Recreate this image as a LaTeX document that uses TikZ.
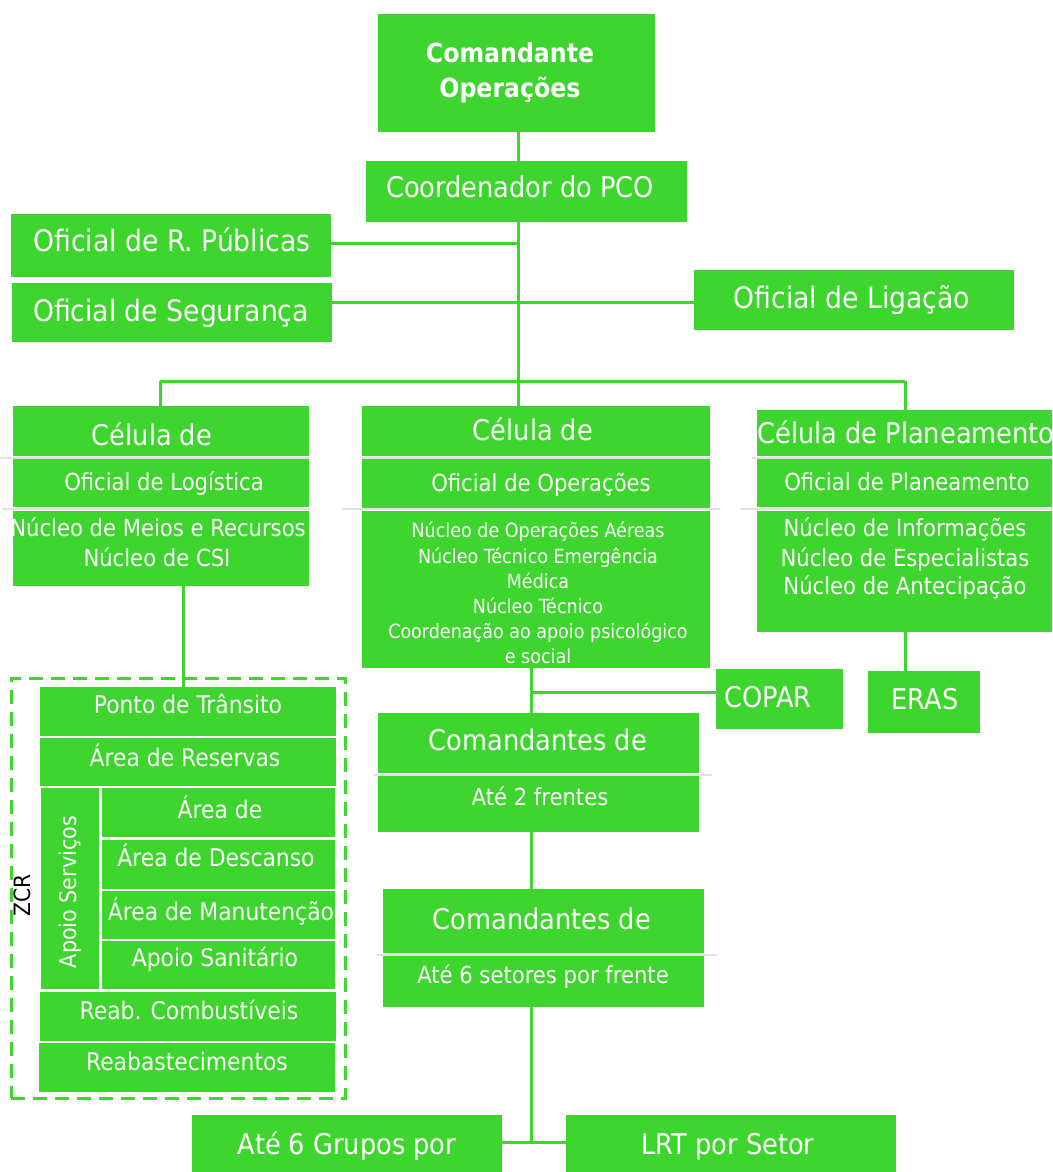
\documentclass[tikz,border=0pt]{standalone}
\usepackage{fontspec}
\setmainfont{DejaVu Sans Condensed}
\usetikzlibrary{fit}
\definecolor{gr}{RGB}{62,214,46}
\definecolor{gl}{RGB}{226,226,226}
\begin{document}
\begin{tikzpicture}[x=1pt,y=-1pt,
 box/.style={fill=gr, draw=none, inner sep=0pt, outer sep=0pt},
 tx/.style={text=white, inner sep=0pt, outer sep=0pt, anchor=base},
 big/.style={tx, font=\fontsize{28.5}{34}\selectfont},
 bigr/.style={tx, font=\fontsize{29.6}{34}\selectfont},
 mid/.style={tx, font=\fontsize{23.5}{28}\selectfont},
 sml/.style={tx, font=\fontsize{19.5}{24}\selectfont},
 zin/.style={tx, font=\fontsize{24.3}{28}\selectfont},
 bld/.style={tx, font=\fontsize{26.3}{30}\selectfont\bfseries},
 conn/.style={draw=gr, line width=3pt},
 sepl/.style={draw=gl, line width=2pt}]
\useasboundingbox (0,0) rectangle (1052,1172);

% ---------- coordinates for connectors
\coordinate (vT) at (518,0);
\coordinate (bL) at (160,381);
\coordinate (bC) at (518,381);
\coordinate (bR) at (905,381);
\coordinate (j1) at (518,243);
\coordinate (j2) at (518,302);
\coordinate (vC) at (531,692);
\coordinate (vB) at (531,1142);
\coordinate (vL) at (183,0);

% ---------- boxes
\node[box, fit={(378,14)(655,132)}] (cmd) {};
\node[box, fit={(366,161)(687,222)}] (coord) {};
\node[box, fit={(11,214)(331,277)}] (orp) {};
\node[box, fit={(12,283)(332,342)}] (oseg) {};
\node[box, fit={(694,270)(1014,330)}] (olig) {};

\node[box, fit={(13,406)(309,456)}] (lh) {};
\node[box, fit={(13,459)(309,507)}] (lm) {};
\node[box, fit={(13,511)(309,586)}] (lb) {};

\node[box, fit={(362,406)(710,456)}] (ch) {};
\node[box, fit={(362,459)(710,508)}] (cm) {};
\node[box, fit={(362,511)(710,668)}] (cb) {};

\node[box, fit={(757,410)(1052,456)}] (rh) {};
\node[box, fit={(757,459)(1052,507)}] (rm) {};
\node[box, fit={(757,511)(1052,632)}] (rb) {};

\node[box, fit={(716,669)(843,729)}] (copar) {};
\node[box, fit={(868,671)(980,733)}] (eras) {};

\node[box, fit={(378,713)(699,773)}] (fr1) {};
\node[box, fit={(378,776)(699,832)}] (fr2) {};
\node[box, fit={(383,889)(704,953)}] (st1) {};
\node[box, fit={(383,956)(704,1007)}] (st2) {};

\node[box, fit={(192,1115)(502,1172)}] (grp) {};
\node[box, fit={(566,1115)(896,1172)}] (lrt) {};

% ZCR inner boxes
\node[box, fit={(40,687)(336,736)}] (pt) {};
\node[box, fit={(40,738)(336,786)}] (ar) {};
\node[box, fit={(41,788)(99,989)}] (aps) {};
\node[box, fit={(102,788)(335,837)}] (aal) {};
\node[box, fit={(102,840)(335,889)}] (ade) {};
\node[box, fit={(102,891)(335,939)}] (ama) {};
\node[box, fit={(102,941)(335,989)}] (asa) {};
\node[box, fit={(40,992)(336,1041)}] (rco) {};
\node[box, fit={(39,1043)(335,1092)}] (rea) {};

% ---------- light separator lines
\draw[sepl] (0,457.5) -- (310,457.5);
\draw[sepl] (2,509) -- (310,509);
\draw[sepl] (362,457.5) -- (710,457.5);
\draw[sepl] (342,509) -- (720,509);
\draw[sepl] (752,457.5) -- (1052,457.5);
\draw[sepl] (740,509) -- (1052,509);
\draw[sepl] (373,774.5) -- (712,774.5);
\draw[sepl] (377,954.5) -- (717,954.5);

% ---------- connectors
\draw[conn] (cmd.south -| vT) -- (coord.north -| vT);
\draw[conn] (coord.south -| vT) -- (bC);
\draw[conn] (orp.east |- j1) -- (j1);
\draw[conn] (oseg.east |- j2) -- (olig.west |- j2);
\draw[conn] (bL) -- (bR);
\draw[conn] (bL) -- (lh.north -| bL);
\draw[conn] (bC) -- (ch.north -| bC);
\draw[conn] (bR) -- (rh.north -| bR);
\draw[conn] (cb.south -| vC) -- (fr1.north -| vC);
\draw[conn] (vC) -- (copar.west |- vC);
\draw[conn] (rb.south -| bR) -- (eras.north -| bR);
\draw[conn] (fr2.south -| vC) -- (st1.north -| vC);
\draw[conn] (st2.south -| vB) -- (vB);
\draw[conn] (grp.east |- vB) -- (lrt.west |- vB);
\draw[conn] (lb.south -| vL) -- (pt.north -| vL);

% ZCR dashed frame
\node[draw=gr, line width=3pt, dash pattern=on 14pt off 8pt, inner sep=0pt, fit={(11,678)(345,1098)}] (zcr) {};
\node[rotate=90, inner sep=0pt, font=\fontsize{22.5}{26}\selectfont] (zcrl) at (22,895) {ZCR};

% ---------- texts
\node[bld] (t1) at (510,63) {Comandante};
\node[bld] (t2) at (510,97) {Operações};
\node[big] (t3) at (520,197) {Coordenador do PCO};
\node[bigr] (t4) at (172,251) {Oficial de R. Públicas};
\node[bigr] (t5) at (171,321) {Oficial de Segurança};
\node[bigr] (t6) at (852,308) {Oficial de Ligação};

\node[big] (t7) at (152,445) {Célula de};
\node[mid] (t8) at (164,490) {Oficial de Logística};
\node[mid] (t9) at (158,536) {Núcleo de Meios e Recursos};
\node[mid] (t10) at (157,566) {Núcleo de CSI};

\node[big] (t11) at (533,440) {Célula de};
\node[mid] (t12) at (541,491) {Oficial de Operações};
\node[sml] (t13) at (538,537) {Núcleo de Operações Aéreas};
\node[sml] (t14) at (538,563) {Núcleo Técnico Emergência};
\node[sml] (t15) at (538,588) {Médica};
\node[sml] (t16) at (538,613) {Núcleo Técnico};
\node[sml] (t17) at (538,638) {Coordenação ao apoio psicológico};
\node[sml] (t18) at (538,663) {e social};

\node[big] (t19) at (906,443) {Célula de Planeamento};
\node[mid] (t20) at (907,490) {Oficial de Planeamento};
\node[mid] (t21) at (905,536) {Núcleo de Informações};
\node[mid] (t22) at (905,566) {Núcleo de Especialistas};
\node[mid] (t23) at (905,594) {Núcleo de Antecipação};

\node[big] (t24) at (768,707) {COPAR};
\node[big] (t25) at (925,709) {ERAS};

\node[big] (t26) at (538,750) {Comandantes de};
\node[mid] (t27) at (540,805) {Até 2 frentes};
\node[big] (t28) at (542,929) {Comandantes de};
\node[mid] (t29) at (543,983) {Até 6 setores por frente};

\node[big] (t30) at (347,1154) {Até 6 Grupos por};
\node[big] (t31) at (728,1154) {LRT por Setor};

\node[zin] (t32) at (188,713) {Ponto de Trânsito};
\node[zin] (t33) at (185,766) {Área de Reservas};
\node[zin] (t34) at (220,818) {Área de};
\node[zin] (t35) at (216,866) {Área de Descanso};
\node[zin] (t36) at (221,920) {Área de Manutenção};
\node[zin] (t37) at (215,966) {Apoio Sanitário};
\node[zin] (t38) at (189,1019) {Reab. Combustíveis};
\node[zin] (t39) at (187,1070) {Reabastecimentos};
\node[tx, anchor=center, rotate=90, font=\fontsize{23}{28}\selectfont] (t40) at (70,892) {Apoio Serviços};
\end{tikzpicture}
\end{document}
